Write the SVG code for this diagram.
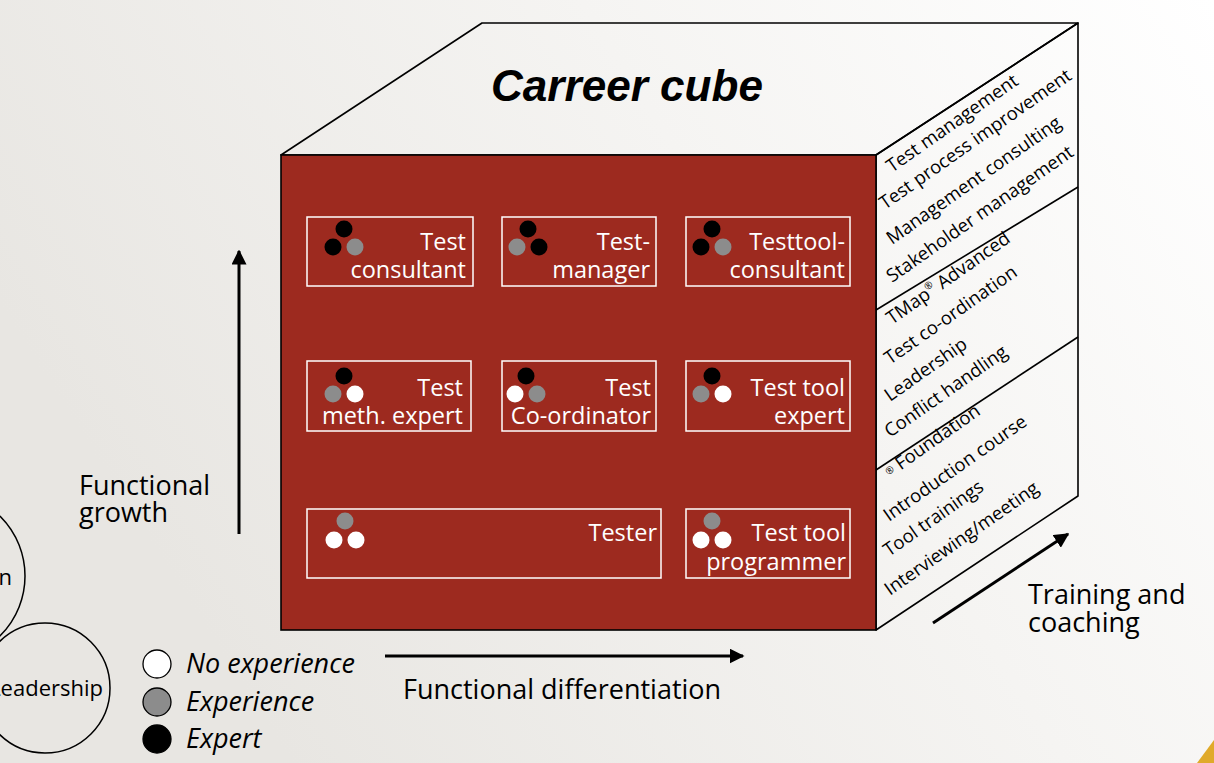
<svg xmlns="http://www.w3.org/2000/svg" width="1214" height="763" viewBox="0 0 1214 763">
  <defs>
    <linearGradient id="bg" x1="0" y1="0.4" x2="1" y2="0">
      <stop offset="0" stop-color="#e8e6e2"/>
      <stop offset="0.55" stop-color="#f5f4f2"/>
      <stop offset="1" stop-color="#ffffff"/>
    </linearGradient>
    <marker id="head" viewBox="0 0 10 10" refX="9" refY="5" markerWidth="5" markerHeight="5" orient="auto" markerUnits="strokeWidth">
      <path d="M0,0 L10,5 L0,10 Z" fill="#000"/>
    </marker>
    <style>
      .edge { fill: none; stroke: #000; stroke-width: 1.6; stroke-linejoin: round; }
      .box { fill: none; stroke: #fff; stroke-width: 1.5; }
      .role { font-family: "Open Sans", "Liberation Sans", sans-serif; font-size: 23.5px; fill: #fff; text-anchor: end; }
      .skill { font-family: "Open Sans", "Liberation Sans", sans-serif; font-size: 18.5px; fill: #000; }
      .label { font-family: "Open Sans", "Liberation Sans", sans-serif; font-size: 27px; fill: #000; }
      .bubble { font-family: "Open Sans", "Liberation Sans", sans-serif; font-size: 22px; fill: #000; text-anchor: end; }
      .legend { font-family: "Open Sans", "Liberation Sans", sans-serif; font-size: 27px; font-style: italic; fill: #000; }
      .axis { stroke: #000; stroke-width: 3; fill: none; marker-end: url(#head); }
      .none { fill: #fff; }
      .some { fill: #8c8c8c; }
      .full { fill: #000; }
    </style>
  </defs>

  <!-- backdrop -->
  <rect x="0" y="0" width="1214" height="763" fill="url(#bg)"/>
  <polygon points="1197,763 1214,740 1214,763" fill="#e0aa2a"/>

  <!-- partly visible bubbles at the left margin -->
  <g id="bubble-upper">
    <circle cx="-59" cy="576" r="84" fill="none" stroke="#000" stroke-width="1.5"/>
    <text class="bubble" x="12" y="585">n</text>
  </g>
  <g id="bubble-leadership">
    <circle cx="45" cy="688" r="65" fill="none" stroke="#000" stroke-width="1.5"/>
    <text class="bubble" x="103" y="696">Leadership</text>
  </g>

  <!-- cube -->
  <g id="cube">
    <polygon class="edge" points="281,155 482,23 1078,23 876,155" fill="none"/>
    <polygon class="edge" points="876,155 1078,23 1078,496 876,630" fill="#fff"/>
    <rect x="281" y="155" width="595" height="475" fill="#9d2a1f" stroke="#000" stroke-width="1.6"/>
    <line class="edge" x1="876" y1="310" x2="1078" y2="187"/>
    <line class="edge" x1="876" y1="470" x2="1078" y2="337"/>
    <text x="627" y="101" text-anchor="middle" font-family="Liberation Sans, Arial, sans-serif" font-size="45" font-weight="bold" font-style="italic" fill="#000" textLength="272" lengthAdjust="spacingAndGlyphs">Carreer cube</text>
  </g>

  <!-- skills listed on the side face -->
  <g id="skills-management">
    <text class="skill" x="892" y="173" transform="rotate(-35 892 173)">Test management</text>
    <text class="skill" x="885" y="210" transform="rotate(-35 885 210)">Test process improvement</text>
    <text class="skill" x="892" y="245" transform="rotate(-35 892 245)">Management consulting</text>
    <text class="skill" x="892" y="283" transform="rotate(-35 892 283)">Stakeholder management</text>
  </g>
  <g id="skills-coordination">
    <text class="skill" x="892" y="325" transform="rotate(-35 892 325)">TMap<tspan font-size="10" dy="-8">®</tspan><tspan dy="8"> Advanced</tspan></text>
    <text class="skill" x="890" y="365" transform="rotate(-35 890 365)">Test co-ordination</text>
    <text class="skill" x="890" y="402" transform="rotate(-35 890 402)">Leadership</text>
    <text class="skill" x="890" y="438" transform="rotate(-35 890 438)">Conflict handling</text>
  </g>
  <g id="skills-basic">
    <text class="skill" x="890" y="478" transform="rotate(-35 890 478)"><tspan font-size="10" dy="-3">®</tspan><tspan dy="3"> Foundation</tspan></text>
    <text class="skill" x="889" y="522" transform="rotate(-35 889 522)">Introduction course</text>
    <text class="skill" x="889" y="557" transform="rotate(-35 889 557)">Tool trainings</text>
    <text class="skill" x="890" y="596" transform="rotate(-35 890 596)">Interviewing/meeting</text>
  </g>

  <!-- roles on the front face -->
  <g id="test-consultant">
    <rect class="box" x="307" y="217" width="166" height="69"/>
    <circle class="full" cx="344" cy="229" r="8.5"/>
    <circle class="full" cx="333" cy="247" r="8.5"/>
    <circle class="some" cx="355" cy="247" r="8.5"/>
    <text class="role" x="466" y="250">Test</text>
    <text class="role" x="466" y="278">consultant</text>
  </g>
  <g id="test-manager">
    <rect class="box" x="502" y="217" width="154" height="69"/>
    <circle class="full" cx="528" cy="229" r="8.5"/>
    <circle class="some" cx="517" cy="247" r="8.5"/>
    <circle class="full" cx="539" cy="247" r="8.5"/>
    <text class="role" x="650" y="250">Test-</text>
    <text class="role" x="650" y="278">manager</text>
  </g>
  <g id="testtool-consultant">
    <rect class="box" x="686" y="217" width="164" height="69"/>
    <circle class="full" cx="712" cy="229" r="8.5"/>
    <circle class="full" cx="701" cy="247" r="8.5"/>
    <circle class="some" cx="723" cy="247" r="8.5"/>
    <text class="role" x="845" y="250">Testtool-</text>
    <text class="role" x="845" y="278">consultant</text>
  </g>
  <g id="test-meth-expert">
    <rect class="box" x="307" y="361" width="164" height="70"/>
    <circle class="full" cx="344" cy="376" r="8.5"/>
    <circle class="some" cx="333" cy="394" r="8.5"/>
    <circle class="none" cx="355" cy="394" r="8.5"/>
    <text class="role" x="463" y="396">Test</text>
    <text class="role" x="463" y="424">meth. expert</text>
  </g>
  <g id="test-coordinator">
    <rect class="box" x="502" y="361" width="154" height="70"/>
    <circle class="full" cx="526" cy="376" r="8.5"/>
    <circle class="none" cx="515" cy="394" r="8.5"/>
    <circle class="some" cx="537" cy="394" r="8.5"/>
    <text class="role" x="651" y="396">Test</text>
    <text class="role" x="651" y="424">Co-ordinator</text>
  </g>
  <g id="test-tool-expert">
    <rect class="box" x="686" y="361" width="164" height="70"/>
    <circle class="full" cx="712" cy="376" r="8.5"/>
    <circle class="some" cx="701" cy="394" r="8.5"/>
    <circle class="none" cx="723" cy="394" r="8.5"/>
    <text class="role" x="845" y="396">Test tool</text>
    <text class="role" x="845" y="424">expert</text>
  </g>
  <g id="tester">
    <rect class="box" x="307" y="509" width="354" height="69"/>
    <circle class="some" cx="345" cy="521" r="8.5"/>
    <circle class="none" cx="334" cy="540" r="8.5"/>
    <circle class="none" cx="356" cy="540" r="8.5"/>
    <text class="role" x="657" y="541">Tester</text>
  </g>
  <g id="test-tool-programmer">
    <rect class="box" x="686" y="509" width="164" height="69"/>
    <circle class="some" cx="712" cy="521" r="8.5"/>
    <circle class="none" cx="701" cy="540" r="8.5"/>
    <circle class="none" cx="723" cy="540" r="8.5"/>
    <text class="role" x="846" y="541">Test tool</text>
    <text class="role" x="846" y="570">programmer</text>
  </g>

  <!-- growth axes -->
  <g id="connectors">
    <line class="axis" x1="239" y1="534" x2="239" y2="251"/>
    <line class="axis" x1="385" y1="656" x2="743" y2="656"/>
    <line class="axis" x1="933" y1="623" x2="1068" y2="534"/>
  </g>
  <g id="axis-labels">
    <text class="label" x="79" y="495">Functional</text>
    <text class="label" x="79" y="522">growth</text>
    <text class="label" x="403" y="699">Functional differentiation</text>
    <text class="label" x="1028" y="604">Training and</text>
    <text class="label" x="1028" y="632">coaching</text>
  </g>

  <!-- legend -->
  <g id="legend">
    <circle cx="157" cy="664" r="14" fill="#fff" stroke="#000" stroke-width="1.3"/>
    <circle cx="157" cy="702" r="14" fill="#8c8c8c" stroke="#000" stroke-width="1.3"/>
    <circle cx="157" cy="739" r="14" fill="#000" stroke="#000" stroke-width="1.3"/>
    <text class="legend" x="186" y="673">No experience</text>
    <text class="legend" x="186" y="711">Experience</text>
    <text class="legend" x="186" y="748">Expert</text>
  </g>
</svg>
